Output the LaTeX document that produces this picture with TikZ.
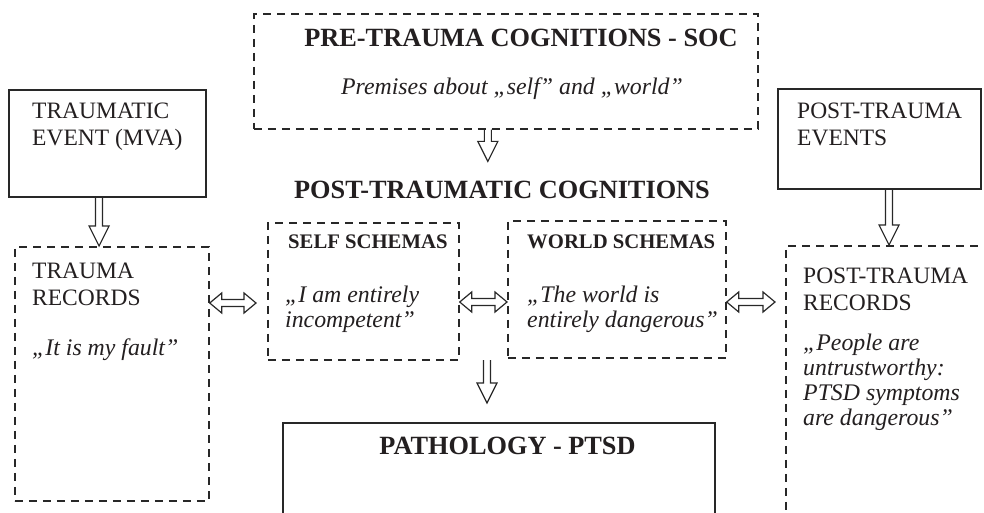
\documentclass[tikz,border=0pt]{standalone}
\usepackage{fontspec}
\setmainfont{Liberation Serif}
\usetikzlibrary{calc}
\definecolor{inkc}{RGB}{35,31,32}
\definecolor{linec}{RGB}{40,40,40}
\tikzset{
  solidbox/.style={draw=linec, line width=2.1pt, inner sep=0pt, anchor=north west},
  dashbox/.style={draw=linec, line width=1.7pt, dash pattern=on 8pt off 6pt, inner sep=0pt, anchor=north west},
  reg/.style={text=inkc, inner sep=0pt, align=left, anchor=base west, font=\fontsize{23.5}{27}\selectfont},
  itl/.style={text=inkc, inner sep=0pt, align=left, anchor=base west, font=\fontsize{23.8}{25}\selectfont\itshape},
  hbold/.style={text=inkc, inner sep=0pt, anchor=base, font=\fontsize{26.3}{30}\selectfont\bfseries},
  sbold/.style={text=inkc, inner sep=0pt, anchor=base west, font=\fontsize{20.7}{24}\selectfont\bfseries},
  arrowline/.style={draw=linec, line width=1.2pt, line join=miter},
  fatdown/.style={to path={let \p1=(\tikztostart),\p2=(\tikztotarget) in
    (\x1-3.5pt,\y1) -- (\x1-3.5pt,\y2+20pt) -- (\x1-10pt,\y2+20pt) -- (\x1,\y2)
    -- (\x1+10pt,\y2+20pt) -- (\x1+3.5pt,\y2+20pt) -- (\x1+3.5pt,\y1)}},
  fatboth/.style={to path={let \p1=(\tikztostart),\p2=(\tikztotarget) in
    (\x1,\y1) -- (\x1+12pt,\y1+10pt) -- (\x1+12pt,\y1+3.5pt) -- (\x2-12pt,\y1+3.5pt)
    -- (\x2-12pt,\y1+10pt) -- (\x2,\y1) -- (\x2-12pt,\y1-10pt) -- (\x2-12pt,\y1-3.5pt)
    -- (\x1+12pt,\y1-3.5pt) -- (\x1+12pt,\y1-10pt) -- cycle}},
}
\begin{document}
\begin{tikzpicture}[x=1pt,y=-1pt]
\useasboundingbox[fill=white] (0,0) rectangle (984,512);
% boxes
\node[dashbox, minimum width=504pt, minimum height=115pt] (pre) at (253,13) {};
\node[solidbox, minimum width=197pt, minimum height=107pt] (te) at (8,89) {};
\node[solidbox, minimum width=203pt, minimum height=100pt] (pe) at (777,88) {};
\node[dashbox, minimum width=194pt, minimum height=254pt] (tr) at (14,246) {};
\node[dashbox, minimum width=191pt, minimum height=137pt] (ss) at (267,222) {};
\node[dashbox, minimum width=218pt, minimum height=137pt] (ws) at (507,220) {};
\node[dashbox, minimum width=240pt, minimum height=300pt] (ptr) at (785,245) {};
\node[solidbox, minimum width=432pt, minimum height=120pt] (pth) at (282,422) {};
% texts (multi-line nodes are placed by the baseline of their last line)
\node[hbold] (pretitle) at (521,46) {PRE-TRAUMA COGNITIONS - SOC};
\node[itl, anchor=base] (premise) at (512,94) {Premises about „self” and „world”};
\node[hbold] (ptc) at (502,198) {POST-TRAUMATIC COGNITIONS};
\node[reg] (tetext) at (32,145) {TRAUMATIC\\EVENT (MVA)};
\node[reg] (petext) at (797,145) {POST-TRAUMA\\EVENTS};
\node[reg] (trtext) at (32,305) {TRAUMA\\RECORDS};
\node[itl] (trquote) at (32,355) {„It is my fault”};
\node[sbold] (sstitle) at (288,248) {SELF SCHEMAS};
\node[itl] (ssquote) at (285,327) {„I am entirely\\incompetent”};
\node[sbold] (wstitle) at (527,248) {WORLD SCHEMAS};
\node[itl] (wsquote) at (527,327) {„The world is\\entirely dangerous”};
\node[reg] (ptrtext) at (803,310) {POST-TRAUMA\\RECORDS};
\node[itl] (ptrquote) at (803,425) {„People are\\untrustworthy:\\PTSD symptoms\\are dangerous”};
\node[hbold] (pthtitle) at (507.5,454) {PATHOLOGY - PTSD};
% connectors
\coordinate (cogout) at (487,360);
\draw[arrowline, fatdown] ([xshift=-18pt]pre.south) to ([yshift=19pt]ptc.north);
\draw[arrowline, fatdown] ([xshift=-8.5pt]te.south) to (tr.north);
\draw[arrowline, fatdown] ([xshift=9.5pt]pe.south) to (ptr.north);
\draw[arrowline, fatdown] (cogout) to ([yshift=19pt]pth.north);
\draw[arrowline, fatboth] ([yshift=-57pt]tr.north east) to ([xshift=-11pt]ss.west);
\draw[arrowline, fatboth] ([yshift=-80pt]ss.north east) to (ws.west);
\draw[arrowline, fatboth] ([yshift=-82pt]ws.north east) to ([xshift=-10pt]ptr.west);
\end{tikzpicture}
\end{document}
